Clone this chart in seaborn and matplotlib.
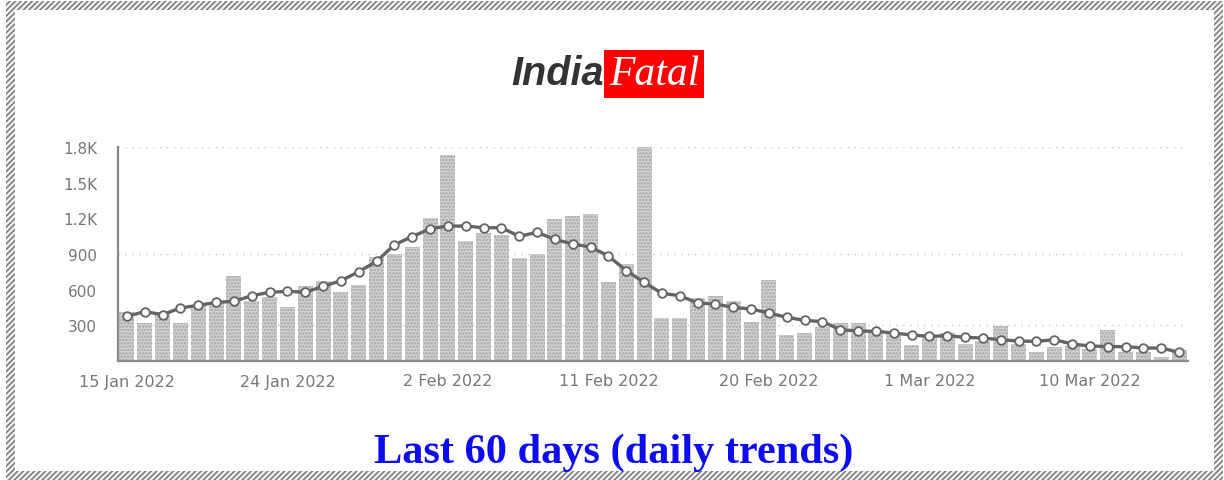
import numpy as np
import pandas as pd
import matplotlib
matplotlib.use("Agg")
import matplotlib.pyplot as plt
import seaborn as sns
from matplotlib.patches import Rectangle

# ---------------- data ----------------
start_date = "2022-01-15"
n_days = 60
daily_deaths = [415, 320, 409, 320, 465, 488, 718, 507, 541, 451, 628, 670, 583, 639, 872,
                900, 956, 1200, 1735, 1012, 1074, 1063, 866, 900, 1194, 1222, 1236, 662, 816,
                1800, 359, 359,
                527, 549, 505, 331, 681, 219, 235, 283, 317, 317, 235, 235, 135, 207, 235,
                143, 171, 292, 143, 73, 115, 129, 101, 261, 79, 79, 31, 95]
moving_avg = [376, 415, 390, 446, 468, 493, 502, 549, 578, 586, 578, 628, 675, 751, 838,
              978, 1046, 1113, 1135, 1135, 1121, 1121, 1049, 1082, 1023, 984, 959, 883, 760,
              662, 569, 549,
              488, 479, 451, 437, 404, 367, 342, 331, 264, 252, 250, 235, 219, 207, 213,
              199, 193, 179, 168, 165, 179, 143, 126, 121, 121, 109, 109, 73]
y_ticks = [300, 600, 900, 1200, 1500, 1800]
y_tick_labels = ["300", "600", "900", "1.2K", "1.5K", "1.8K"]
grid_values = [300, 900, 1800]
label_step_days = 9

title_left = "India"
title_right = "Fatal"
caption = "Last 60 days (daily trends)"

# ---------------- figure ----------------
sns.set_theme(style="white")
plt.rcParams["font.family"] = ["DejaVu Sans"]
plt.rcParams["hatch.linewidth"] = 1.2

W, H = 1224, 481
fig = plt.figure(figsize=(W / 100, H / 100), dpi=100)
fig.patch.set_facecolor("white")

def fx(px):
    return px / W

def fy(py):
    return 1 - py / H

ax = fig.add_axes([fx(118), fy(362), fx(1188 - 118), (362 - 148) / H])

days = pd.date_range(start_date, periods=n_days, freq="D")
df = pd.DataFrame({"day": np.arange(n_days), "deaths": daily_deaths, "avg": moving_avg})

for gv in grid_values:
    ax.axhline(gv, color="#c8c8c8", lw=1.0, ls=(0, (1, 4)), zorder=0)

sns.barplot(data=df, x="day", y="deaths", ax=ax, color="#d0d0d0", saturation=1,
            width=0.84, linewidth=0, zorder=2)
for p in ax.patches:
    p.set_hatch(".....")
    p.set_edgecolor("#a6a6a6")
    p.set_linewidth(0)

sns.lineplot(data=df, x="day", y="avg", ax=ax, color="#646464", lw=2.4,
             marker="o", markersize=6.2, markerfacecolor="white",
             markeredgecolor="#646464", markeredgewidth=1.3, zorder=3)

ax.set_xlim(-0.5, n_days - 0.5)
ax.set_ylim(0, 1800)
ax.set_xlabel("")
ax.set_ylabel("")

# x ticks: marks at day boundaries, labels at day centres
label_dates = pd.date_range(start_date, periods=7, freq=f"{label_step_days}D")
label_pos = [(d - days[0]).days for d in label_dates]
labels = [f"{d.day} {d.strftime('%b %Y')}" for d in label_dates]
major = [p - 0.5 for p in label_pos] + [n_days - 0.5]
ax.set_xticks(major, [""] * len(major))
ax.set_xticks(label_pos, labels, minor=True)
ax.tick_params(axis="x", which="major", length=5, width=1.2, color="#777777", direction="out")
ax.tick_params(axis="x", which="minor", length=0, pad=9, labelsize=11.5, labelcolor="#777777")

ax.set_yticks(y_ticks, y_tick_labels)
ax.tick_params(axis="y", length=2, width=1, color="#999999", pad=13,
               labelsize=11, labelcolor="#777777")

for s in ["top", "right"]:
    ax.spines[s].set_visible(False)
for s in ["left", "bottom"]:
    ax.spines[s].set_color("#8a8a8a")
    ax.spines[s].set_linewidth(1.6)

# ---------------- texts ----------------
fig.text(fx(604), fy(85), title_left, ha="right", va="baseline", fontsize=28.5,
         fontweight="bold", fontstyle="italic", family="Liberation Sans", color="#333333")
fig.text(fx(609), fy(85), title_right, ha="left", va="baseline", fontsize=30,
         fontstyle="italic", family="Liberation Serif", color="white",
         bbox=dict(boxstyle="square,pad=0.12", fc="#ff0000", ec="none"))
fig.text(fx(614), fy(463), caption, ha="center", va="baseline", fontsize=30.5,
         fontweight="bold", family="Liberation Serif", color="#0c0cee")

# ---------------- hatched border ----------------
bw = 9
frames = [(6, 2, 1223 - 6, bw),          # top
          (6, 481 - bw, 1223 - 6, bw),   # bottom
          (6, 2, bw, 479),               # left
          (1223 - bw, 2, bw, 479)]       # right
for (x0, y0, w, h) in frames:
    fig.patches.append(Rectangle((fx(x0), fy(y0 + h)), w / W, h / H,
                                 transform=fig.transFigure, facecolor="#f2f2f2",
                                 edgecolor="#7e7e7e", hatch="//////", linewidth=0))

fig.savefig("out.png", dpi=100)
